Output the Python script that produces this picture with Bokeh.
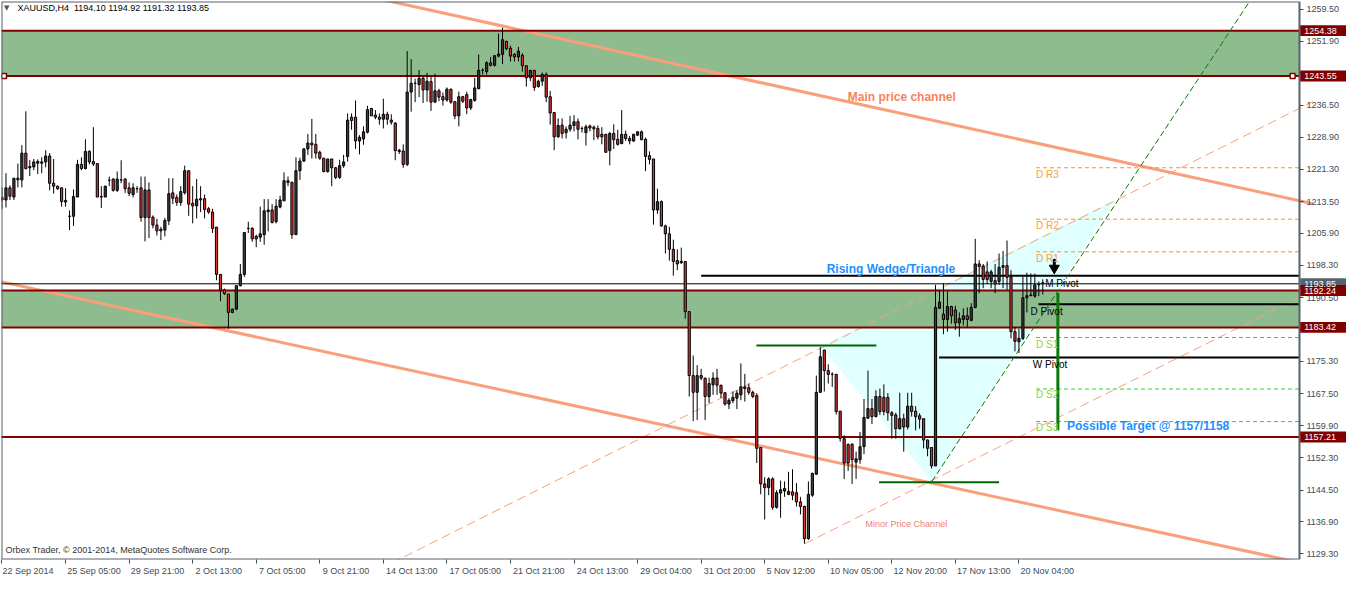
from bokeh.plotting import figure
from bokeh.models import FixedTicker, ColumnDataSource, PrintfTickFormatter
from bokeh.embed import file_html
from bokeh.resources import INLINE
from bokeh.core.properties import value

FONT = "Liberation Sans"

# ---------------- data (XAUUSD H4 candles) ----------------
opens = [
    1214.5, 1213.9, 1216.8, 1214.6, 1219.1, 1218.7, 1225.1, 1221.9, 1221.8, 1222.7,
    1222.7, 1223.0, 1224.4, 1217.9, 1217.2, 1216.8, 1213.8, 1210.0, 1210.0, 1214.6,
    1222.4, 1221.4, 1225.5, 1223.1, 1222.6, 1214.7, 1214.6, 1218.6, 1218.9, 1216.2,
    1218.7, 1218.9, 1216.8, 1215.2, 1216.6, 1216.8, 1209.7, 1216.3, 1209.8, 1207.9,
    1206.9, 1206.7, 1208.9, 1215.6, 1214.5, 1213.3, 1215.6, 1220.9, 1213.1, 1212.5,
    1213.9, 1214.2, 1211.8, 1211.0, 1207.4, 1196.1, 1192.4, 1191.4, 1187.0, 1187.8,
    1193.4, 1196.1, 1207.1, 1207.1, 1205.2, 1205.0, 1205.6, 1211.1, 1211.5, 1208.7,
    1212.2, 1213.7, 1218.5, 1218.1, 1205.6, 1220.9, 1223.2, 1226.1, 1227.5, 1227.2,
    1225.3, 1223.9, 1220.7, 1223.7, 1221.6, 1219.3, 1222.1, 1224.3, 1233.7, 1233.7,
    1228.0, 1228.5, 1230.1, 1235.8, 1234.2, 1233.7, 1233.2, 1234.4, 1233.0, 1232.3,
    1225.8, 1225.6, 1222.4, 1239.7, 1241.8, 1241.5, 1243.0, 1240.2, 1242.2, 1237.3,
    1240.0, 1238.6, 1237.8, 1240.4, 1237.4, 1234.0, 1238.6, 1239.1, 1235.9, 1237.7,
    1240.5, 1244.9, 1244.6, 1246.7, 1246.1, 1248.3, 1248.7, 1251.8, 1250.2, 1248.7,
    1248.1, 1248.5, 1246.0, 1243.1, 1244.9, 1241.0, 1242.3, 1243.9, 1238.6, 1234.8,
    1229.0, 1231.8, 1230.0, 1230.8, 1231.7, 1232.6, 1231.0, 1230.0, 1231.6, 1231.3,
    1231.0, 1229.6, 1229.6, 1225.7, 1229.8, 1228.4, 1227.4, 1229.6, 1228.6, 1228.0,
    1229.4, 1230.2, 1228.4, 1224.5, 1223.7, 1211.5, 1213.5, 1207.7, 1205.8, 1202.1,
    1199.4, 1199.2, 1199.2, 1187.2, 1171.9, 1167.9, 1171.9, 1171.3, 1166.9, 1169.7,
    1171.3, 1169.6, 1167.8, 1165.1, 1165.9, 1166.5, 1167.3, 1169.2, 1169.0, 1167.9,
    1167.1, 1154.7, 1146.0, 1145.1, 1147.2, 1140.4, 1143.8, 1144.3, 1143.5, 1144.1,
    1143.9, 1141.7, 1140.6, 1132.9, 1143.3, 1148.3, 1167.9, 1178.0, 1173.1, 1172.2,
    1172.2, 1163.4, 1156.8, 1155.4, 1155.5, 1151.2, 1151.8, 1154.9, 1161.7, 1164.0,
    1162.1, 1166.9, 1166.7, 1166.7, 1163.0, 1162.5, 1159.2, 1161.6, 1159.6, 1164.6,
    1163.4, 1162.3, 1161.6, 1156.5, 1154.7, 1150.3, 1188.0, 1186.6, 1185.3, 1188.4,
    1187.6, 1184.5, 1185.3, 1186.2, 1185.1, 1188.2, 1198.6, 1198.1, 1196.7, 1194.4,
    1194.6, 1194.4, 1197.8, 1198.2, 1195.4, 1182.4, 1180.0, 1180.8, 1190.5, 1191.0,
    1190.9, 1193.6, 1194.10,
]
highs = [
    1216.9, 1220.3, 1217.4, 1219.1, 1222.6, 1227.0, 1235.1, 1223.4, 1223.7, 1223.6,
    1224.1, 1225.8, 1225.1, 1223.7, 1217.3, 1216.9, 1216.7, 1211.4, 1216.4, 1223.5,
    1224.1, 1228.4, 1225.8, 1231.3, 1222.6, 1217.2, 1217.3, 1219.5, 1219.1, 1220.7,
    1223.4, 1219.1, 1218.1, 1217.9, 1217.2, 1219.5, 1219.5, 1218.1, 1210.2, 1209.4,
    1207.5, 1209.6, 1219.1, 1219.1, 1215.2, 1217.2, 1222.1, 1220.9, 1217.2, 1218.9,
    1217.2, 1215.2, 1212.2, 1211.8, 1207.4, 1196.1, 1192.7, 1191.4, 1187.9, 1193.4,
    1198.6, 1206.1, 1208.7, 1207.4, 1205.6, 1212.3, 1214.1, 1214.1, 1212.9, 1214.1,
    1214.9, 1220.5, 1219.5, 1218.3, 1224.1, 1224.0, 1226.3, 1229.7, 1233.3, 1229.7,
    1225.7, 1223.9, 1223.7, 1223.7, 1221.8, 1223.5, 1224.7, 1234.6, 1234.6, 1237.7,
    1229.4, 1231.5, 1236.4, 1235.9, 1235.4, 1234.6, 1238.1, 1235.0, 1234.4, 1232.5,
    1226.1, 1227.2, 1249.5, 1247.6, 1242.9, 1245.0, 1243.6, 1244.3, 1243.6, 1244.1,
    1240.5, 1239.6, 1240.8, 1240.5, 1237.4, 1239.8, 1238.8, 1239.8, 1238.1, 1243.1,
    1248.7, 1245.4, 1247.1, 1248.1, 1248.5, 1253.7, 1255.1, 1252.0, 1250.8, 1249.0,
    1250.5, 1249.0, 1246.0, 1245.0, 1245.0, 1242.7, 1244.4, 1244.4, 1240.0, 1234.8,
    1233.4, 1233.4, 1231.5, 1234.0, 1234.2, 1233.4, 1231.5, 1231.9, 1231.9, 1231.7,
    1231.7, 1231.3, 1229.7, 1230.2, 1232.0, 1230.7, 1235.4, 1230.5, 1229.2, 1229.7,
    1230.3, 1230.5, 1228.8, 1225.5, 1223.7, 1216.6, 1213.8, 1208.0, 1207.5, 1204.4,
    1202.1, 1202.5, 1199.2, 1187.2, 1176.7, 1174.4, 1173.5, 1171.3, 1171.4, 1172.7,
    1173.5, 1169.7, 1167.9, 1166.5, 1168.1, 1168.4, 1174.8, 1172.3, 1170.0, 1168.3,
    1167.7, 1154.7, 1147.6, 1147.6, 1147.6, 1144.5, 1146.8, 1146.6, 1148.9, 1149.5,
    1146.2, 1142.9, 1140.8, 1146.6, 1148.7, 1171.9, 1178.7, 1178.1, 1174.6, 1172.7,
    1172.3, 1163.4, 1157.6, 1155.7, 1155.7, 1153.7, 1158.4, 1166.3, 1173.1, 1166.3,
    1168.4, 1168.8, 1169.8, 1167.7, 1163.4, 1163.0, 1167.8, 1162.8, 1167.8, 1167.8,
    1164.6, 1162.9, 1161.6, 1156.6, 1154.7, 1193.6, 1192.4, 1194.0, 1192.0, 1188.6,
    1188.6, 1187.0, 1188.0, 1188.2, 1189.2, 1204.6, 1199.5, 1198.6, 1199.2, 1197.2,
    1198.6, 1201.1, 1201.7, 1204.2, 1197.1, 1183.5, 1183.1, 1195.5, 1196.5, 1196.3,
    1196.3, 1194.4, 1194.92,
]
lows = [
    1211.8, 1212.1, 1213.9, 1213.9, 1216.9, 1216.9, 1221.2, 1219.6, 1221.0, 1220.1,
    1220.3, 1221.7, 1216.2, 1215.4, 1216.3, 1212.3, 1212.3, 1206.7, 1207.7, 1214.6,
    1221.0, 1221.2, 1222.4, 1222.0, 1214.6, 1212.0, 1214.6, 1217.2, 1215.9, 1215.8,
    1217.9, 1215.6, 1214.8, 1214.5, 1215.6, 1208.7, 1204.0, 1204.8, 1207.1, 1205.4,
    1204.3, 1205.2, 1207.9, 1212.9, 1212.5, 1212.5, 1215.2, 1210.1, 1208.3, 1209.5,
    1211.0, 1209.5, 1210.6, 1206.0, 1194.7, 1189.7, 1191.2, 1183.1, 1186.8, 1187.5,
    1193.2, 1195.5, 1206.0, 1203.9, 1202.6, 1203.9, 1203.2, 1206.4, 1208.3, 1208.3,
    1211.9, 1213.7, 1217.2, 1204.6, 1205.6, 1218.7, 1223.0, 1224.7, 1223.8, 1223.8,
    1223.5, 1220.5, 1220.4, 1217.2, 1218.9, 1218.9, 1221.6, 1223.1, 1230.7, 1226.1,
    1224.8, 1227.1, 1229.8, 1234.0, 1233.2, 1231.9, 1231.0, 1231.9, 1231.9, 1223.4,
    1224.9, 1221.6, 1222.0, 1235.0, 1237.3, 1238.5, 1237.1, 1237.4, 1235.2, 1237.1,
    1237.5, 1236.5, 1237.4, 1236.9, 1233.2, 1231.5, 1237.1, 1234.4, 1235.4, 1237.4,
    1240.4, 1243.9, 1243.9, 1245.8, 1245.8, 1248.0, 1246.4, 1249.7, 1247.0, 1247.0,
    1247.0, 1244.6, 1241.0, 1242.3, 1240.0, 1240.8, 1241.2, 1237.3, 1231.9, 1225.8,
    1228.8, 1228.6, 1228.6, 1230.2, 1230.3, 1228.4, 1230.0, 1226.9, 1230.3, 1228.2,
    1228.4, 1227.2, 1225.2, 1222.2, 1226.1, 1226.9, 1227.2, 1228.0, 1227.2, 1227.8,
    1229.2, 1228.2, 1220.8, 1222.4, 1208.0, 1210.6, 1207.5, 1201.1, 1199.4, 1195.8,
    1197.1, 1198.6, 1185.5, 1166.9, 1161.0, 1161.3, 1170.8, 1161.3, 1165.3, 1167.3,
    1167.3, 1166.5, 1164.7, 1163.9, 1165.3, 1163.9, 1166.0, 1165.7, 1167.3, 1166.5,
    1151.0, 1143.5, 1137.5, 1143.3, 1139.8, 1140.1, 1137.9, 1142.9, 1143.3, 1142.1,
    1140.6, 1138.7, 1131.7, 1132.6, 1142.9, 1148.3, 1167.9, 1168.1, 1170.0, 1169.2,
    1162.6, 1156.1, 1147.2, 1149.1, 1146.0, 1147.2, 1150.8, 1153.1, 1161.5, 1160.3,
    1161.9, 1162.5, 1162.4, 1161.1, 1156.8, 1156.8, 1159.0, 1153.7, 1159.0, 1162.1,
    1158.8, 1159.2, 1154.5, 1152.6, 1149.7, 1150.3, 1187.8, 1181.8, 1182.4, 1184.3,
    1182.8, 1181.2, 1183.9, 1183.4, 1184.9, 1188.0, 1191.6, 1192.8, 1193.8, 1192.8,
    1191.6, 1193.6, 1192.8, 1192.4, 1180.8, 1177.7, 1177.3, 1180.4, 1187.0, 1190.9,
    1190.5, 1190.9, 1191.32,
]
closes = [
    1213.9, 1216.8, 1214.8, 1219.1, 1218.7, 1225.1, 1221.4, 1221.6, 1223.0, 1223.1,
    1223.0, 1224.4, 1217.9, 1217.2, 1216.6, 1213.5, 1213.4, 1210.0, 1214.7, 1222.4,
    1221.4, 1225.5, 1223.0, 1222.5, 1214.6, 1214.6, 1217.2, 1218.6, 1216.2, 1218.9,
    1218.7, 1216.6, 1215.5, 1216.8, 1216.6, 1209.7, 1216.3, 1209.7, 1207.9, 1206.5,
    1206.5, 1209.0, 1215.4, 1214.3, 1213.3, 1215.9, 1220.9, 1212.9, 1212.5, 1214.1,
    1214.2, 1211.6, 1211.0, 1207.1, 1196.1, 1192.2, 1191.5, 1187.0, 1187.8, 1193.4,
    1196.1, 1206.1, 1207.1, 1204.6, 1204.6, 1205.8, 1211.3, 1211.5, 1208.5, 1212.4,
    1213.9, 1218.5, 1218.1, 1205.6, 1220.9, 1223.2, 1226.1, 1227.5, 1227.1, 1225.1,
    1223.9, 1220.7, 1223.7, 1221.6, 1219.3, 1222.1, 1223.0, 1233.0, 1232.9, 1228.0,
    1228.9, 1230.2, 1235.5, 1234.0, 1233.7, 1233.2, 1234.4, 1233.2, 1232.5, 1225.7,
    1225.5, 1222.4, 1239.7, 1241.8, 1241.8, 1243.0, 1240.2, 1242.3, 1237.3, 1240.0,
    1238.5, 1237.8, 1240.4, 1237.3, 1234.0, 1238.6, 1237.5, 1235.9, 1237.9, 1240.7,
    1244.9, 1244.9, 1246.7, 1246.1, 1248.4, 1248.8, 1252.2, 1250.1, 1248.3, 1248.1,
    1249.5, 1246.0, 1243.1, 1244.9, 1240.8, 1242.3, 1243.9, 1238.5, 1234.7, 1229.0,
    1231.7, 1229.8, 1230.8, 1231.8, 1232.6, 1230.8, 1231.0, 1231.4, 1231.1, 1230.9,
    1229.0, 1229.0, 1225.3, 1229.8, 1228.3, 1227.2, 1229.6, 1228.6, 1228.0, 1229.6,
    1230.2, 1228.3, 1224.3, 1223.6, 1211.5, 1213.5, 1207.7, 1205.8, 1202.1, 1199.2,
    1198.6, 1198.9, 1187.2, 1171.9, 1167.9, 1171.9, 1171.3, 1166.9, 1170.0, 1171.3,
    1169.6, 1167.7, 1165.1, 1166.0, 1166.7, 1167.7, 1169.2, 1168.8, 1167.9, 1166.9,
    1154.5, 1146.0, 1145.1, 1147.2, 1140.4, 1143.9, 1144.6, 1144.9, 1144.2, 1143.3,
    1141.7, 1140.6, 1132.9, 1143.5, 1148.5, 1167.9, 1176.4, 1173.1, 1172.2, 1172.2,
    1163.3, 1156.9, 1151.0, 1151.0, 1151.8, 1152.0, 1154.9, 1161.9, 1164.0, 1162.1,
    1166.9, 1163.3, 1163.3, 1163.0, 1162.4, 1159.2, 1161.6, 1159.6, 1164.6, 1163.3,
    1162.1, 1161.5, 1156.5, 1154.5, 1150.3, 1188.2, 1189.5, 1185.3, 1188.4, 1186.2,
    1184.5, 1185.5, 1186.2, 1185.3, 1188.2, 1198.6, 1198.0, 1194.9, 1194.9, 1196.7,
    1193.8, 1197.8, 1198.2, 1195.4, 1182.4, 1180.1, 1180.8, 1190.5, 1191.0, 1191.2,
    1193.6, 1193.7, 1193.85,
]

x_tick_labels = ["22 Sep 2014", "25 Sep 05:00", "29 Sep 21:00", "2 Oct 13:00", "7 Oct 05:00",
                 "9 Oct 21:00", "14 Oct 13:00", "17 Oct 05:00", "21 Oct 21:00", "24 Oct 13:00",
                 "29 Oct 04:00", "31 Oct 20:00", "5 Nov 12:00", "10 Nov 05:00", "12 Nov 20:00",
                 "17 Nov 13:00", "20 Nov 04:00"]
bars_per_label = 16
y_ticks = [1129.30, 1136.90, 1144.50, 1152.30, 1159.90, 1167.50, 1175.30, 1182.90, 1190.50,
           1198.30, 1205.90, 1213.50, 1221.30, 1228.90, 1236.50, 1244.30, 1251.90, 1259.50]

# zones and levels
zone_bottoms = [1243.55, 1183.42]
zone_tops = [1254.38, 1192.24]
level_prices = [1254.38, 1243.55, 1192.24, 1183.42, 1157.21]
bid_price = 1193.85

# channel lines (bar index, price)
main_upper = ([90.0, 330.0], [1263.0, 1213.0])
main_lower = ([-1.0, 330.0], [1194.5, 1126.5])
minor_upper = ([95.0, 330.0], [1125.6, 1237.4])
minor_lower = ([202.1, 330.0], [1131.7, 1192.2])
wedge_line = ([234.1, 320.0], [1146.6, 1269.9])
wedge_tri_x = [206.1, 234.1, 279.9]
wedge_tri_y = [1178.9, 1146.55, 1213.8]
green_h_x0 = [189.9, 220.8]
green_h_x1 = [220.1, 251.0]
green_h_y = [1179.1, 1146.4]
target_x = 265.8
target_top, target_bottom = 1191.7, 1158.8

# pivots
pivot_names = ["D R3", "D R2", "D R1", "D S1", "D S2", "D S3"]
pivot_prices = [1221.6, 1209.3, 1201.5, 1181.0, 1168.7, 1160.9]
pivot_label_y = [1220.1, 1207.9, 1200.0, 1179.4, 1167.3, 1159.4]
major_pivot_names = ["M Pivot", "D Pivot", "W Pivot"]
major_pivot_prices = [1195.75, 1188.95, 1176.2]
major_pivot_start = [176.0, 260.9, 235.9]
major_pivot_label_x = [262.6, 258.9, 259.5]
major_pivot_label_y = [1194.0, 1187.3, 1174.5]

# ---------------- figure ----------------
X0, XB = -0.125, 326.625          # chart area: first bar .. price-scale border
XE = 338.46                       # right end of the canvas (price scale area)
Y0, Y1 = 1127.92, 1261.36
p = figure(width=1346, height=578, x_range=(X0, XE), y_range=(Y0, Y1),
           y_axis_location="right", output_backend="svg", toolbar_location=None,
           min_border_left=1, min_border_top=1, min_border_right=0, min_border_bottom=19)
p.xgrid.visible = False
p.ygrid.visible = False
p.outline_line_color = None
p.background_fill_color = "white"
p.border_fill_color = "white"

AX_COL = "#3e4c58"
xa = p.xaxis[0]
bar_ticks = [bars_per_label * k for k in range(len(x_tick_labels))]
centers = [round(b + (1 + len(t) * 2.3) / 4.0, 3) for b, t in zip(bar_ticks, x_tick_labels)]
xa.ticker = FixedTicker(ticks=centers, minor_ticks=bar_ticks)
xa.major_label_overrides = {c: t for c, t in zip(centers, x_tick_labels)}
xa.major_tick_in = 0
xa.major_tick_out = 0
xa.minor_tick_in = 0
xa.minor_tick_out = 4
xa.minor_tick_line_color = AX_COL
xa.axis_line_color = None
xa.major_label_standoff = 2
xa.major_label_text_font = FONT
xa.major_label_text_font_size = "9px"
xa.major_label_text_color = AX_COL

ya = p.yaxis[0]
ya.fixed_location = XB
ya.ticker = FixedTicker(ticks=y_ticks)
ya.formatter = PrintfTickFormatter(format="%.2f")
ya.major_label_overrides = {1182.9: "", 1244.3: ""}
ya.major_tick_in = 0
ya.major_tick_out = 4
ya.minor_tick_out = 0
ya.major_tick_line_color = AX_COL
ya.axis_line_color = None
ya.major_label_standoff = 3
ya.major_label_text_font = FONT
ya.major_label_text_font_size = "9px"
ya.major_label_text_color = AX_COL

# wedge triangle
p.patch(wedge_tri_x, wedge_tri_y, fill_color="#E0FFFF", line_color=None)

# green zones
p.quad(left=[X0 - 1] * 2, right=[XB] * 2, bottom=zone_bottoms, top=zone_tops,
       fill_color="#8FBC8F", line_color=None)

# channels
SALMON = "#F99F7B"
p.line(main_upper[0], main_upper[1], line_color=SALMON, line_width=3)
p.line(main_lower[0], main_lower[1], line_color=SALMON, line_width=3)
p.line(minor_upper[0], minor_upper[1], line_color=SALMON, line_width=1, line_dash="9 5")
p.line(minor_lower[0], minor_lower[1], line_color=SALMON, line_width=1, line_dash="9 5")

# maroon levels
p.segment(x0=[X0 - 1] * len(level_prices), x1=[XB] * len(level_prices),
          y0=level_prices, y1=level_prices, line_color="#800000", line_width=2)

# pivots (dashed)
piv_cols = ["#F7931E", "#F7931E", "#F7931E", "#33CC33", "#33CC33", "#33CC33"]
p.segment(x0=[260.3] * 6, x1=[XB] * 6, y0=pivot_prices, y1=pivot_prices,
          line_color=piv_cols, line_width=1, line_dash="4 3")

# major pivots
p.segment(x0=major_pivot_start, x1=[XB] * 3, y0=major_pivot_prices, y1=major_pivot_prices,
          line_color="black", line_width=2)

# green wedge line & marks
p.line(wedge_line[0], wedge_line[1], line_color="#007A00", line_width=1, line_dash="6 3")
p.segment(x0=green_h_x0, x1=green_h_x1, y0=green_h_y, y1=green_h_y, line_color="#006400", line_width=2)
p.segment(x0=[target_x], x1=[target_x], y0=[target_top], y1=[target_bottom],
          line_color="#0A780A", line_width=3)

# bid line
p.segment(x0=[X0 - 1], x1=[XB], y0=[bid_price], y1=[bid_price], line_color="black", line_width=1)

# candles
n = min(len(opens), len(highs), len(lows), len(closes))
xs = list(range(n))
tops = [max(o, c) for o, c in zip(opens[:n], closes[:n])]
bots = [min(o, c) for o, c in zip(opens[:n], closes[:n])]
cols = ["#3d3d3d" if c >= o else "#DD3333" for o, c in zip(opens[:n], closes[:n])]
src = ColumnDataSource(dict(x=xs, h=highs[:n], l=lows[:n], top=tops, bottom=bots, color=cols))
p.segment(x0="x", x1="x", y0="l", y1="h", source=src, line_color="black", line_width=1)
p.vbar(x="x", width=0.55, top="top", bottom="bottom", source=src,
       fill_color="color", line_color="black", line_width=1)

# arrow
p.segment(x0=[264.9], x1=[264.9], y0=[1199.8], y1=[1198.0], line_color="black", line_width=3)
p.scatter([264.9], [1197.6], marker="inverted_triangle", size=10, fill_color="black", line_color="black")

# selection squares
p.scatter([0.5, 324.9], [1243.55, 1243.55], marker="square", size=5, fill_color="white",
          line_color="#800000", line_width=1.5)

# chart frame (left, top, bottom, price-scale border)
FR = "#56636e"
p.segment(x0=[X0, X0, X0, XB], x1=[XB, XB, X0, XB], y0=[Y1, Y0, Y0, Y0], y1=[Y1, Y0, Y1, Y1],
          line_color=FR, line_width=2)

# texts
p.text(x=[207.6], y=[1197.3], text=["Rising Wedge/Triangle"], text_font=value(FONT),
       text_font_size="12px", text_font_style="bold", text_color="#1E90FF", text_baseline="middle")
p.text(x=[268.1], y=[1159.9], text=["Possible Target @ 1157/1158"], text_font=value(FONT),
       text_font_size="12px", text_font_style="bold", text_color="#1E90FF", text_baseline="middle")
p.text(x=[212.9], y=[1238.6], text=["Main price channel"], text_font=value(FONT),
       text_font_size="12px", text_font_style="bold", text_color="#F4845C", text_baseline="middle")
p.text(x=[217.4], y=[1136.5], text=["Minor Price Channel"], text_font=value(FONT),
       text_font_size="9px", text_color="#F07C7C", text_baseline="middle")
lbl_cols = ["#F5A040", "#F5A040", "#F5A040", "#8CD43A", "#8CD43A", "#8CD43A"]
p.text(x=[260.3] * 6, y=pivot_label_y, text=pivot_names, text_font=value(FONT),
       text_font_size="10px", text_color=lbl_cols, text_baseline="middle")
p.text(x=major_pivot_label_x, y=major_pivot_label_y, text=major_pivot_names, text_font=value(FONT),
       text_font_size="10px", text_color="black", text_baseline="middle")
p.text(x=[1.2], y=[1259.85], text=["\u25bc"], text_font=value("DejaVu Sans"),
       text_font_size="7px", text_color="#555555", text_baseline="middle", text_align="center")
p.text(x=[3.9], y=[1259.85], text=["XAUUSD,H4\u00a0\u00a01194.10 1194.92 1191.32 1193.85"],
       text_font=value(FONT), text_font_size="9px", text_color="black", text_baseline="middle")
p.text(x=[0.9], y=[1130.2], text=["Orbex Trader, \u00a9 2001-2014, MetaQuotes Software Corp."],
       text_font=value(FONT), text_font_size="9px", text_color="#333333", text_baseline="middle")

# price boxes on the price scale (drawn above the axis)
box_prices = [bid_price] + level_prices
box_cols = ["#56636e"] + ["#800000"] * len(level_prices)
box_text = ["%.2f" % v for v in box_prices]
p.quad(left=[XB + 0.2] * len(box_prices), right=[XE + 1] * len(box_prices),
       bottom=[v - 1.3 for v in box_prices], top=[v + 1.3 for v in box_prices],
       fill_color=box_cols, line_color=None, level="overlay")
p.text(x=[XB + 1.2] * len(box_prices), y=box_prices, text=box_text, text_font=value(FONT),
       text_font_size="9px", text_color="white", text_baseline="middle", level="overlay")

open("out.html", "w").write(file_html(p, INLINE))
